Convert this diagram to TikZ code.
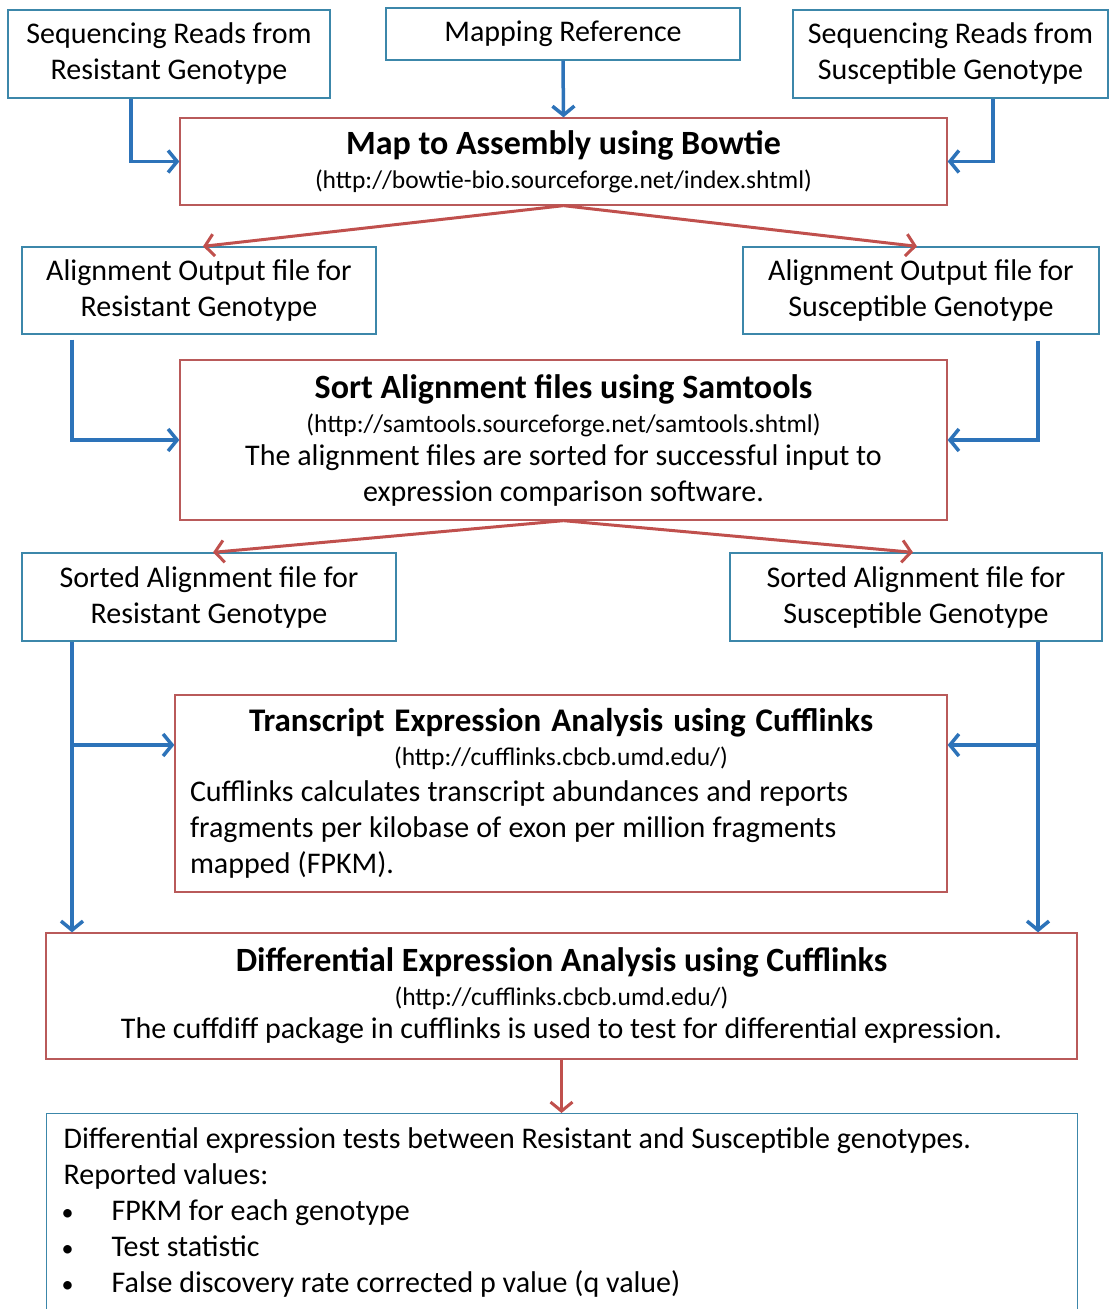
\documentclass[tikz,border=0pt]{standalone}
\usepackage{fontspec}
\usepackage{graphicx}
\setmainfont{Carlito}
\usetikzlibrary{arrows.meta,calc}
\definecolor{bbox}{RGB}{60,135,170}
\definecolor{rbox}{RGB}{185,90,90}
\definecolor{barr}{RGB}{45,115,185}
\definecolor{rarr}{RGB}{192,80,77}
\newcommand\urlfont{\fontsize{25.5}{30}\selectfont}
\newcommand\ttlfont{\fontsize{34}{40}\selectfont\bfseries}
\newcommand\bul{\hspace*{-2pt}\makebox[50pt][l]{\fontsize{24}{24}\selectfont\textbullet}}
\begin{document}
\begin{tikzpicture}[x=1pt,y=-1pt,
  box/.style={line width=1.3pt,inner sep=0pt,align=center,font=\fontsize{30}{36}\selectfont},
  bluebox/.style={box,draw=bbox},
  redbox/.style={box,draw=rbox},
  barrow/.style={draw=barr,line width=3.5pt,-{Straight Barb[length=9pt,width=22pt]}},
  rarrow/.style={draw=rarr,line width=3pt,-{Straight Barb[length=9pt,width=22pt]}}]
\useasboundingbox (0,0) rectangle (1110,1309);

\node[bluebox,minimum width=322pt,minimum height=88pt] (seqres) at (169,54) {Sequencing Reads from\\Resistant Genotype};
\node[bluebox,minimum width=354pt,minimum height=52pt] (mapref) at (563,34) {Mapping Reference};
\node[bluebox,minimum width=315pt,minimum height=88pt] (seqsus) at (950.5,54) {Sequencing Reads from\\Susceptible Genotype};

\node[redbox,minimum width=767pt,minimum height=87pt] (map) at (563.5,161.5)
  {{\ttlfont Map to Assembly using Bowtie}\\[-2pt]{\urlfont (http://bowtie-bio.sourceforge.net/index.shtml)}};

\node[bluebox,minimum width=354pt,minimum height=87pt] (alres) at (199,290.5) {Alignment Output file for\\Resistant Genotype};
\node[bluebox,minimum width=356pt,minimum height=87pt] (alsus) at (921,290.5) {Alignment Output file for\\Susceptible Genotype};

\node[redbox,minimum width=767pt,minimum height=160pt] (sort) at (563.5,440)
  {{\ttlfont Sort Alignment files using Samtools}\\[-2pt]{\urlfont (http://samtools.sourceforge.net/samtools.shtml)}\\[-3pt]
   The alignment files are sorted for successful input to\\expression comparison software.};

\node[bluebox,minimum width=374pt,minimum height=88pt] (sres) at (209,597) {Sorted Alignment file for\\Resistant Genotype};
\node[bluebox,minimum width=372pt,minimum height=88pt] (ssus) at (916,597) {Sorted Alignment file for\\Susceptible Genotype};

\node[redbox,align=left,text width=742pt,inner xsep=15pt,minimum height=197pt] (trans) at (561,793.5)
  {\centering{\fontsize{33}{40}\selectfont\bfseries Transcript Expression Analysis using Cufflinks}\\[-2pt]{\urlfont (http://cufflinks.cbcb.umd.edu/)}\par
   \raggedright\spaceskip=7.2pt Cufflinks calculates transcript abundances and reports\\fragments per kilobase of exon per million fragments\\mapped (FPKM).};

\node[redbox,minimum width=1031pt,minimum height=126pt] (diff) at (561.5,996)
  {{\ttlfont Differential Expression Analysis using Cufflinks}\\[-2pt]{\urlfont (http://cufflinks.cbcb.umd.edu/)}\\[-3pt]
   The cuffdiff package in cufflinks is used to test for differential expression.};

\node[bluebox,anchor=north west,align=left,text width=997pt,inner xsep=17pt,minimum height=198pt] (final) at (46,1113)
  {\spaceskip=6.8pt Differential expression tests between Resistant and Susceptible genotypes.\\
   Reported values:\\
   \bul FPKM for each genotype\\
   \bul Test statistic\\
   \bul False discovery rate corrected p value (q value)};

% connectors
\draw[barrow] (mapref.south) -- (map.north);
\draw[barrow] ([xshift=-38pt]seqres.south) |- (map.west);
\draw[barrow] ([xshift=42.5pt]seqsus.south) |- (map.east);
\draw[rarrow] (map.south) -- ([xshift=4pt]alres.north);
\draw[rarrow] (map.south) -- ([xshift=-4pt]alsus.north);
\draw[barrow] ([xshift=-127pt,yshift=-5pt]alres.south) |- (sort.west);
\draw[barrow] ([xshift=117pt,yshift=-6pt]alsus.south) |- (sort.east);
\draw[rarrow] (sort.south) -- ([xshift=4pt]sres.north);
\draw[rarrow] (sort.south) -- ([xshift=-3pt]ssus.north);
\coordinate (l1) at ([xshift=-137pt]sres.south);
\coordinate (r1) at ([xshift=122pt]ssus.south);
\coordinate (tw) at ([yshift=48.5pt]trans.west);
\coordinate (te) at ([yshift=48.5pt]trans.east);
\draw[barrow] (l1) -- (l1 |- diff.north);
\draw[barrow] (l1 |- tw) -- (tw);
\draw[barrow] (r1) -- (r1 |- diff.north);
\draw[barrow] (r1 |- te) -- (te);
\draw[rarrow] (diff.south) -- (final.north -| diff.south);
\end{tikzpicture}
\end{document}
